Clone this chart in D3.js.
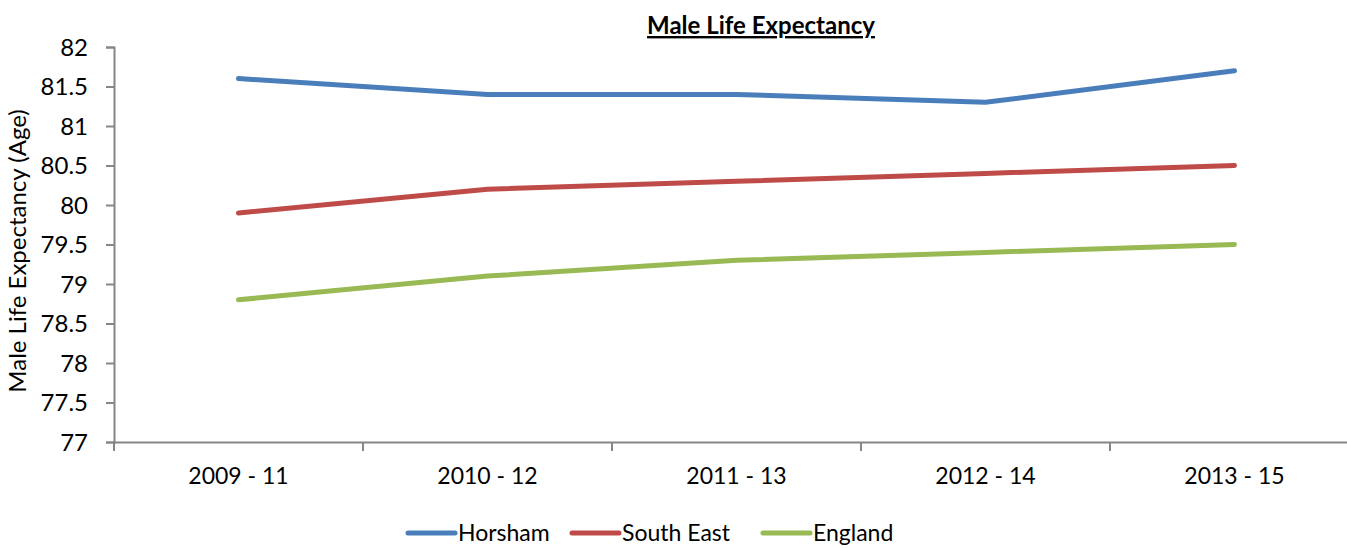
<!DOCTYPE html>
<html>
<head>
<meta charset="utf-8">
<script src="https://cdn.jsdelivr.net/npm/d3@7"></script>
<style>
  body { margin: 0; background: #fff; }
  text { font-family: Lato, "Open Sans", sans-serif; fill: #000; }
</style>
</head>
<body>
<div id="chart"></div>
<script>
// chart data
var periods = ["2009 - 11", "2010 - 12", "2011 - 13", "2012 - 14", "2013 - 15"];
var horsham = [81.6, 81.4, 81.4, 81.3, 81.7];
var southEast = [79.9, 80.2, 80.3, 80.4, 80.5];
var england = [78.8, 79.1, 79.3, 79.4, 79.5];
var yTicks = [77, 77.5, 78, 78.5, 79, 79.5, 80, 80.5, 81, 81.5, 82];

var series = [
  { name: "Horsham", values: horsham, color: "#4a7ebb" },
  { name: "South East", values: southEast, color: "#be4b48" },
  { name: "England", values: england, color: "#98b954" }
];

var width = 1347, height = 548;
var svg = d3.select("#chart").append("svg")
  .attr("width", width)
  .attr("height", height);

// plot area (runs past the right edge like the original)
var x = d3.scaleBand().domain(periods).range([114, 1359]);
var y = d3.scaleLinear().domain([77, 82]).range([442, 47]);

// y axis
var yAxis = svg.append("g")
  .attr("transform", "translate(114,0)")
  .call(d3.axisLeft(y).tickValues(yTicks).tickSize(8).tickPadding(18)
    .tickFormat(function (d) { return d; }));
yAxis.select(".domain").attr("stroke", "#868686").attr("stroke-width", 2);
yAxis.selectAll(".tick line").attr("stroke", "#868686").attr("stroke-width", 2);
yAxis.selectAll(".tick text").style("font-size", "24px").attr("dy", "0.35em");

// x axis
var xAxis = svg.append("g")
  .attr("transform", "translate(0,442)")
  .call(d3.axisBottom(x).tickSize(0).tickPadding(26));
xAxis.select(".domain").attr("stroke", "#868686").attr("stroke-width", 2);
xAxis.selectAll(".tick text").style("font-size", "23px");

// category separators on x axis
var bounds = periods.map(function (p) { return x(p); }).concat([x.range()[1]]);
svg.selectAll(".xsep")
  .data(bounds)
  .enter().append("line")
  .attr("class", "xsep")
  .attr("x1", function (d) { return d; })
  .attr("x2", function (d) { return d; })
  .attr("y1", 442)
  .attr("y2", 451)
  .attr("stroke", "#868686")
  .attr("stroke-width", 2);

// lines
var line = d3.line()
  .x(function (d, i) { return x(periods[i]) + x.bandwidth() / 2; })
  .y(function (d) { return y(d); });

svg.selectAll(".series")
  .data(series)
  .enter().append("path")
  .attr("class", "series")
  .attr("d", function (d) { return line(d.values); })
  .attr("fill", "none")
  .attr("stroke", function (d) { return d.color; })
  .attr("stroke-width", 5)
  .attr("stroke-linecap", "round")
  .attr("stroke-linejoin", "round");

// title
svg.append("text")
  .attr("x", 761)
  .attr("y", 34)
  .attr("text-anchor", "middle")
  .style("font-size", "24px")
  .style("font-weight", "bold")
  .style("text-decoration", "underline")
  .text("Male Life Expectancy");

// y axis title
svg.append("text")
  .attr("transform", "translate(26,251) rotate(-90)")
  .attr("text-anchor", "middle")
  .style("font-size", "24px")
  .text("Male Life Expectancy (Age)");

// legend
var legendX = [408, 572, 763];
var legend = svg.selectAll(".legend")
  .data(series)
  .enter().append("g")
  .attr("class", "legend")
  .attr("transform", function (d, i) { return "translate(" + legendX[i] + ",533)"; });
legend.append("line")
  .attr("x1", 0).attr("x2", 47)
  .attr("y1", 0).attr("y2", 0)
  .attr("stroke", function (d) { return d.color; })
  .attr("stroke-width", 5)
  .attr("stroke-linecap", "round");
legend.append("text")
  .attr("x", 50)
  .attr("dy", "0.35em")
  .style("font-size", "23px")
  .text(function (d) { return d.name; });
</script>
</body>
</html>
